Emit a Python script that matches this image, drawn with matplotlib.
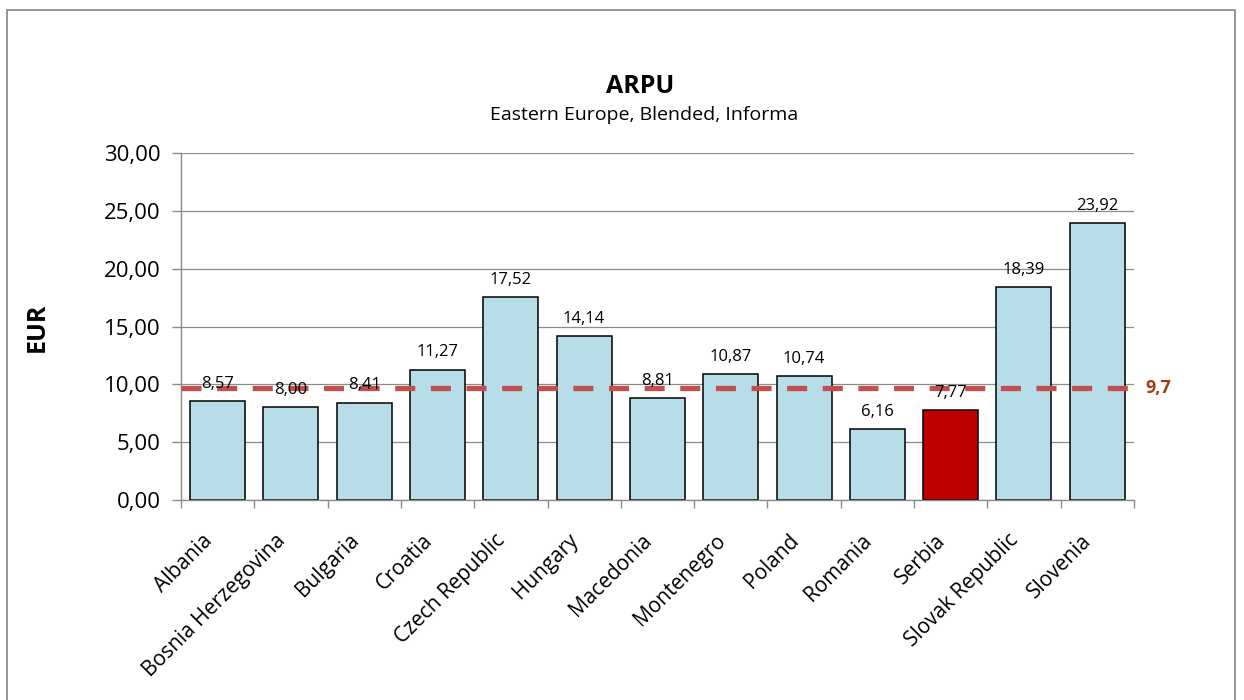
import numpy as np
import matplotlib.pyplot as plt
from matplotlib.patches import Rectangle
from matplotlib.ticker import FuncFormatter, MultipleLocator
from matplotlib.transforms import ScaledTranslation

plt.rcParams['font.family'] = ['Open Sans', 'DejaVu Sans']

countries = ["Albania", "Bosnia Herzegovina", "Bulgaria", "Croatia", "Czech Republic",
             "Hungary", "Macedonia", "Montenegro", "Poland", "Romania", "Serbia",
             "Slovak Republic", "Slovenia"]
arpu = [8.57, 8.00, 8.41, 11.27, 17.52, 14.14, 8.81, 10.87, 10.74, 6.16, 7.77, 18.39, 23.92]
highlight = "Serbia"
average = 9.7


def comma(v, decimals=2):
    return f"{v:.{decimals}f}".replace(".", ",")


fig = plt.figure(figsize=(12.44, 7), dpi=100, facecolor="white")
ax = fig.add_axes([0.1455, 0.2857, 0.766, 0.4957])

# outer chart frame (bottom edge runs off the canvas)
fig.patches.append(Rectangle((7 / 1244, -0.01), 1228 / 1244, 690 / 700 + 0.01,
                             transform=fig.transFigure, fill=False,
                             edgecolor="#8c8c8c", linewidth=1.3))

x = np.arange(len(countries))
colors = ["#c00000" if c == highlight else "#b7dde8" for c in countries]
ax.bar(x, arpu, width=0.75, color=colors, edgecolor="black", linewidth=1.1, zorder=2)

for xi, v in zip(x, arpu):
    ax.text(xi, v + 0.8, comma(v), ha="center", va="bottom", fontsize=12, zorder=4)

# dashed average line across the whole plot
ax.plot([-0.5, len(countries) - 0.5], [average, average], color="#c0504d", linewidth=3.8,
        dashes=(3.8, 2.95), dash_capstyle="butt", zorder=3)
ax.text(len(countries) - 0.34, average, comma(average, 1), color="#a33d0d", fontsize=13,
        fontweight="bold", ha="left", va="center", clip_on=False)

ax.set_xlim(-0.5, len(countries) - 0.5)
ax.set_ylim(0, 30)
ax.yaxis.set_major_locator(MultipleLocator(5))
ax.yaxis.set_major_formatter(FuncFormatter(lambda v, p: comma(v)))
ax.grid(axis="y", color="#8c8c8c", linewidth=0.9, zorder=0)
ax.set_axisbelow(True)

# category names hang from a point just left of each bar centre
ax.set_xticks(np.arange(-0.5, len(countries)))
ax.set_xticklabels([])
label_shift = ScaledTranslation(-0.16, -0.30, fig.dpi_scale_trans)
for xi, name in zip(x, countries):
    ax.text(xi, 0, name, transform=ax.get_xaxis_transform() + label_shift,
            rotation=45, rotation_mode="anchor", ha="right", va="top", fontsize=15)

ax.tick_params(axis="x", length=6, color="#8c8c8c", width=1)
ax.tick_params(axis="y", length=6.5, color="#8c8c8c", width=1, labelsize=16, pad=8)

for side in ("top", "right"):
    ax.spines[side].set_visible(False)
for side in ("left", "bottom"):
    ax.spines[side].set_color("#8c8c8c")
    ax.spines[side].set_linewidth(1)

fig.text(37 / 1244, 0.533, "EUR", rotation=90, ha="center", va="center",
         fontsize=18, fontweight="bold")

fig.text(640 / 1244, 0.876, "ARPU", ha="center", va="center", fontsize=18, fontweight="bold")
fig.text(644 / 1244, 0.836, "Eastern Europe, Blended, Informa", ha="center", va="center",
         fontsize=14)

fig.savefig("out.png", dpi=100, facecolor="white")
